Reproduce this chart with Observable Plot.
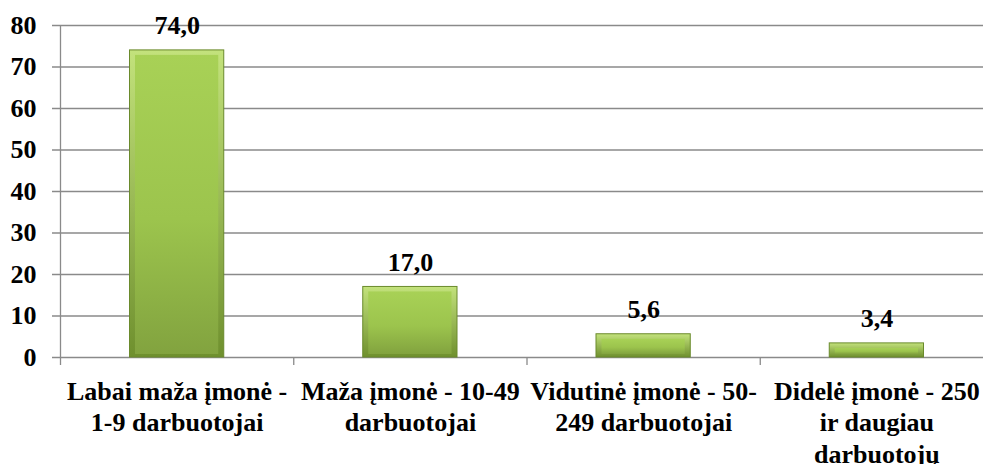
<!DOCTYPE html>
<html>
<head>
<meta charset="utf-8">
<script src="https://cdn.jsdelivr.net/npm/d3@7"></script>
<script src="https://cdn.jsdelivr.net/npm/@observablehq/plot@0.6"></script>
</head>
<body style="margin:0">
<div id="chart"></div>
<script>
const categories = [
  "Labai maža įmonė -\n1-9 darbuotojai",
  "Maža įmonė - 10-49\ndarbuotojai",
  "Vidutinė įmonė - 50-\n249 darbuotojai",
  "Didelė įmonė - 250\nir daugiau\ndarbuotojų"
];
const values = [74.0, 17.0, 5.6, 3.4];
const valueLabels = ["74,0", "17,0", "5,6", "3,4"];
const yTicks = [0, 10, 20, 30, 40, 50, 60, 70, 80];

const data = categories.map((c, i) => ({ i, category: c, value: values[i], label: valueLabels[i] }));
const boundaries = d3.range(categories.length + 1);

const gray = "#8a8a8a";
const serif = "Liberation Serif";

const chart = Plot.plot({
  width: 983,
  height: 464,
  marginLeft: 60,
  marginRight: -10,
  marginTop: 25,
  marginBottom: 107,
  x: { type: "linear", domain: [0, categories.length], axis: null, label: null },
  y: { type: "linear", domain: [0, 80], axis: null, label: null },
  marks: [
    Plot.ruleY(yTicks, { stroke: gray, strokeWidth: 1.3, insetLeft: -8 }),
    Plot.ruleX([0], { stroke: gray, strokeWidth: 1.3 }),
    Plot.ruleX(boundaries, { x: d => d, y1: 0, y2: 0, insetBottom: -8, stroke: gray, strokeWidth: 1.3 }),
    Plot.text(yTicks, { x: 0, y: d => d, text: d => String(d), textAnchor: "end", dx: -24, fontFamily: serif, fontWeight: "bold", fontSize: 26, fill: "#000" }),
    Plot.rectY(data, { x1: "i", x2: d => d.i + 1, y: "value", insetLeft: 69.5, insetRight: 69.5, fill: "url(#outerG)", stroke: "#6a8a2c", strokeWidth: 1 }),
    Plot.rectY(data, { x1: "i", x2: d => d.i + 1, y: "value", insetLeft: 75, insetRight: 75, insetTop: 5, insetBottom: 3, fill: "url(#innerG)" }),
    Plot.text(data, { x: d => d.i + 0.5, y: "value", text: "label", lineAnchor: "bottom", dy: -16, fontFamily: serif, fontWeight: "bold", fontSize: 26, fill: "#000" }),
    Plot.text(data, { x: d => d.i + 0.5, y: 0, text: "category", lineAnchor: "top", dy: 20, lineHeight: 1.21, fontFamily: serif, fontWeight: "bold", fontSize: 26, fill: "#000" })
  ]
});

const svg = d3.select(chart);
const defs = svg.insert("defs", ":first-child");
const og = defs.append("linearGradient").attr("id", "outerG").attr("x1", 0).attr("y1", 0).attr("x2", 0).attr("y2", 1);
og.append("stop").attr("offset", "0%").attr("stop-color", "#c3e27c");
og.append("stop").attr("offset", "100%").attr("stop-color", "#6f902e");
const ig = defs.append("linearGradient").attr("id", "innerG").attr("x1", 0).attr("y1", 0).attr("x2", 0).attr("y2", 1);
ig.append("stop").attr("offset", "0%").attr("stop-color", "#a8d156");
ig.append("stop").attr("offset", "55%").attr("stop-color", "#9cc44d");
ig.append("stop").attr("offset", "100%").attr("stop-color", "#82a33f");

document.getElementById("chart").appendChild(chart);
</script>
</body>
</html>
